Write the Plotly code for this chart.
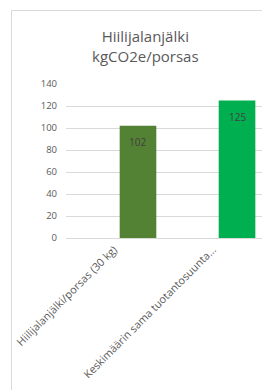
import plotly.graph_objects as go

categories = ["Hiilijalanjälki/porsas (30 kg)", "Keskimäärin sama tuotantosuunta..."]
values = [102, 125]
bar_colors = ["#548235", "#00B050"]
title_lines = ["Hiilijalanjälki", "kgCO2e/porsas"]
y_ticks = [0, 20, 40, 60, 80, 100, 120, 140]

# page body has an 8px margin; work in reference screen pixels
OFF = 8
W, H = 270 - OFF, 390 - OFF
ml, mr, mt, mb = 66 - OFF, 0, 84 - OFF, 152
pw = W - ml - mr
ph = H - mt - mb

fig = go.Figure(go.Bar(
    x=categories,
    y=values,
    marker=dict(color=bar_colors, line=dict(width=0)),
    width=0.37,
    cliponaxis=False,
))

for c, v in zip(categories, values):
    fig.add_annotation(x=c, y=v, text=str(v), showarrow=False, yshift=-16,
                       font=dict(size=10, color="#404040", family="Open Sans"),
                       xanchor="center", yanchor="middle")

def px_x(p):
    return (p - OFF - ml) / pw

def px_y(p):
    return (H - mb - (p - OFF)) / ph

fig.add_shape(type="rect", xref="paper", yref="paper",
              x0=px_x(11.5), x1=px_x(300), y0=px_y(10.5), y1=px_y(420),
              line=dict(color="#d9d9d9", width=1), fillcolor="rgba(0,0,0,0)", layer="below")

fig.add_annotation(xref="paper", yref="paper", x=px_x(145), y=px_y(46),
                   text="<br>".join(title_lines), showarrow=False,
                   font=dict(size=15, color="#595959", family="Open Sans"),
                   xanchor="center", yanchor="middle", align="center")

fig.update_layout(
    width=W, height=H,
    margin=dict(l=ml, r=mr, t=mt, b=mb),
    paper_bgcolor="white", plot_bgcolor="white",
    showlegend=False,
    xaxis=dict(
        range=[-0.727, 1.333],
        tickangle=-45,
        tickfont=dict(size=10.8, color="#595959", family="Open Sans"),
        showgrid=False, showline=True, linecolor="#d9d9d9", linewidth=1,
        ticks="", zeroline=False,
        ticklabelshift=-24,
    ),
    yaxis=dict(
        range=[0, 140],
        tickvals=y_ticks,
        tickfont=dict(size=9.5, color="#595959", family="Open Sans"),
        showgrid=True, gridcolor="#d9d9d9", gridwidth=1,
        showline=False, zeroline=False, ticks="",
        ticklabelstandoff=8,
    ),
)

fig.write_html("out.html")
